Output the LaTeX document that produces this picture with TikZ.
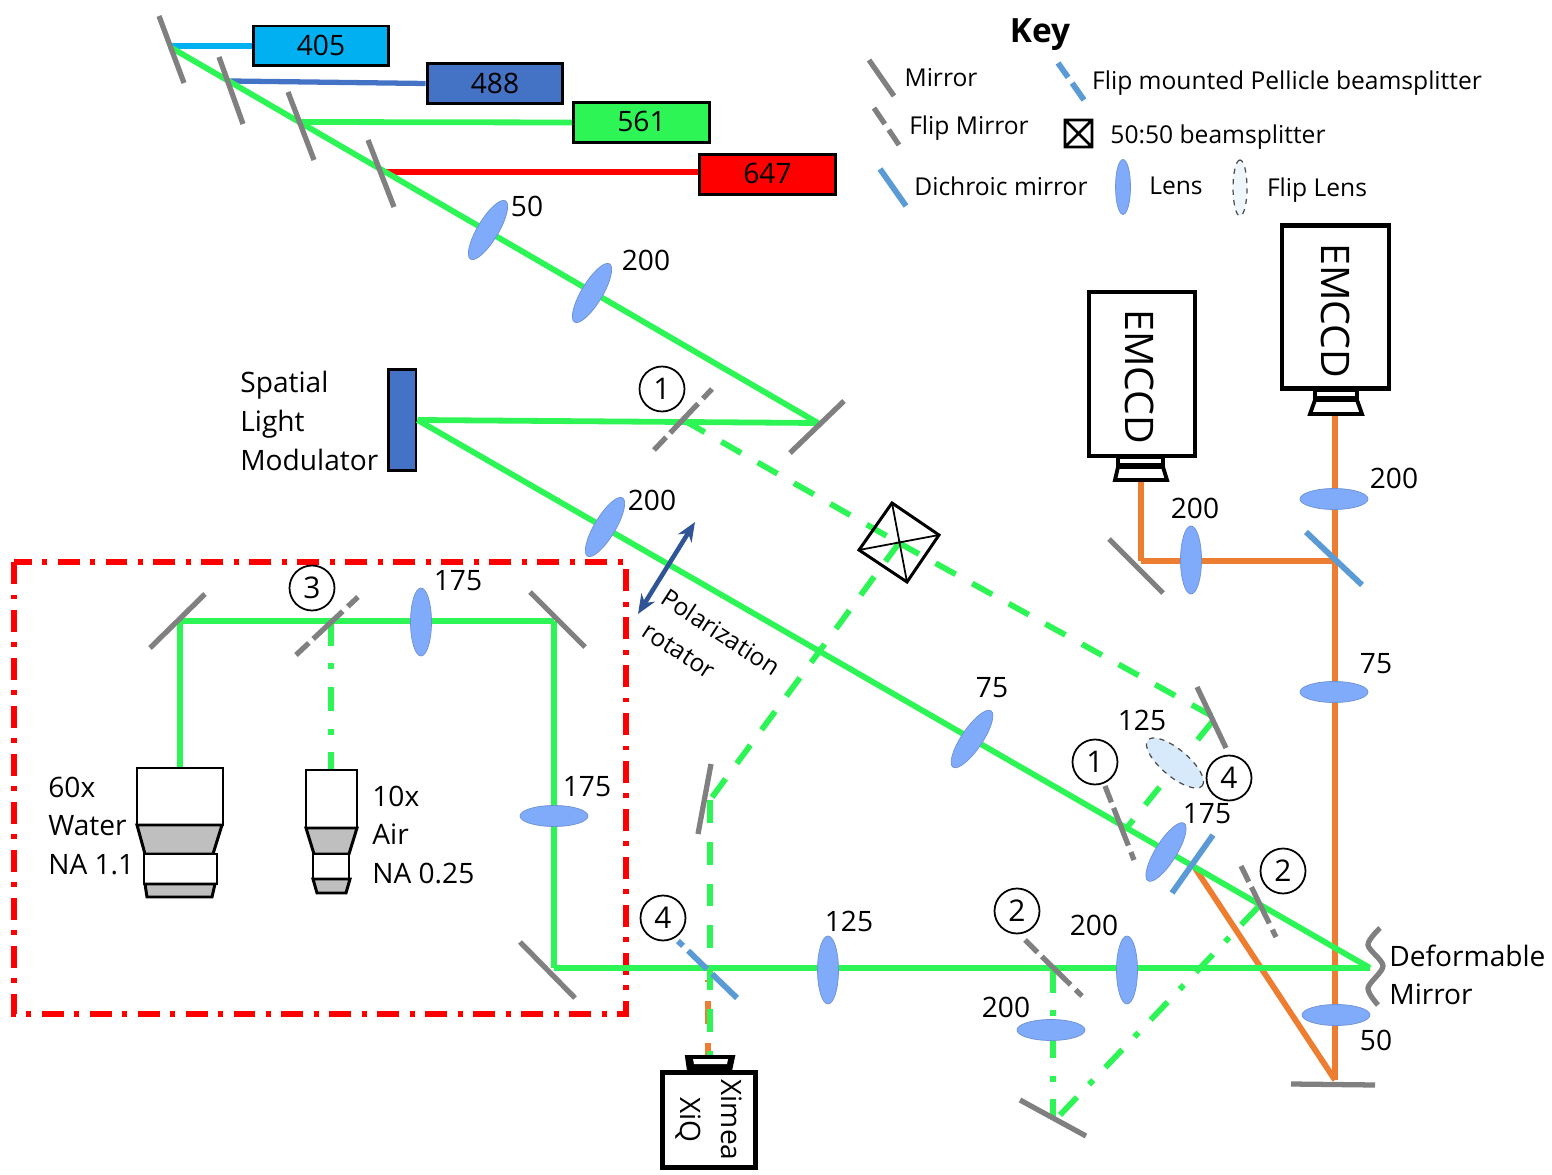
\documentclass[tikz,border=0pt]{standalone}
\usepackage{fontspec}
\setmainfont{Open Sans}
\usetikzlibrary{shapes.geometric,arrows.meta}
\definecolor{beamgreen}{HTML}{2EF556}
\definecolor{beamorange}{HTML}{ED7D31}
\definecolor{beamblue}{HTML}{4472C4}
\definecolor{sky}{HTML}{00B0F0}
\definecolor{lensblue}{HTML}{80ABFA}
\definecolor{fliplensblue}{HTML}{D6EAFB}
\definecolor{dichroic}{HTML}{5B9BD5}
\definecolor{polar}{HTML}{2F5597}
\tikzset{
  lbl/.style={font=\fontsize{16}{22}\selectfont,inner sep=0pt,align=left},
  keylbl/.style={font=\fontsize{14}{22}\selectfont,inner sep=0pt},
  beamg/.style={draw=beamgreen,line width=3.3pt},
  greendash/.style={beamg,dash pattern=on 13pt off 10.8pt},
  greendot/.style={beamg,dash pattern=on 14pt off 10pt on 3.4pt off 10pt},
  beamo/.style={draw=beamorange,line width=3.3pt},
  mirror/.style={draw=gray,line width=3pt},
  flip/.style={mirror,dash pattern=on 10pt off 3.4pt on 23pt off 4pt on 8pt},
  dich/.style={draw=dichroic,line width=3.3pt},
  lens/.style={ellipse,draw=lensblue!85!black,line width=.4pt,fill=lensblue,minimum width=1.36cm,minimum height=.42cm,inner sep=0pt},
  fliplens/.style={ellipse,draw=black!70,dashed,line width=.7pt,fill=fliplensblue,inner sep=0pt},
  num/.style={circle,draw=black,line width=1pt,fill=white,minimum size=.9cm,inner sep=0pt,font=\fontsize{17}{17}\selectfont},
  laser/.style={rectangle,draw=black,line width=1.7pt,minimum width=2.72cm,minimum height=.8cm,inner sep=0pt,font=\fontsize{16}{16}\selectfont},
  cam/.style={rectangle,draw=black,line width=2.8pt,fill=white,inner sep=0pt,rotate=-90},
  mount/.style={draw=black,line width=2.2pt,fill=white},
  obj/.style={draw=black,line width=1.7pt,fill=white},
  objg/.style={obj,fill=black!25},
}
\begin{document}
\begin{tikzpicture}[x=.02cm,y=-.02cm]
  \useasboundingbox (0,0) rectangle (1552,1175);

  \draw[red,line width=2.9pt,dash pattern=on 12.5pt off 6pt on 2.8pt off 6pt] (14,562) rectangle (626,1014);

  \node[laser,fill=sky] (las405) at (321,46) {\raisebox{1.1pt}{405}};
  \node[laser,fill=beamblue] (las488) at (495,83.5) {488};
  \node[laser,fill=beamgreen] (las561) at (641.5,122.5) {\raisebox{1pt}{561}};
  \node[laser,fill=red] (las647) at (767.5,174.5) {\raisebox{1.1pt}{647}};
  \node[rectangle,draw=black,line width=1.7pt,fill=beamblue,minimum width=.56cm,minimum height=2.04cm,inner sep=0pt] (slm) at (402,420) {};

  \coordinate (m405) at (170,46);
  \coordinate (m488) at (230,81);
  \coordinate (m561) at (300,122);
  \coordinate (m647) at (385,172);
  \coordinate (start) at (170,47);
  \coordinate (fold) at (818,423);
  \coordinate (dm) at (1370,968);
  \coordinate (lowm) at (554,968);
  \coordinate (upm) at (554,621);
  \coordinate (leftm) at (180,621);
  \coordinate (obj60) at (180,768);
  \coordinate (fm3) at (331,621);
  \coordinate (obj10) at (331,770);
  \coordinate (fm1) at (685,421);
  \coordinate (cube) at (899,543);
  \coordinate (retro) at (1212,716);
  \coordinate (retrob) at (1212,722);
  \coordinate (fm1b) at (1125,830);
  \coordinate (sidem) at (710,800);
  \coordinate (ximtop) at (710,1057);
  \coordinate (ximor) at (708,980);
  \coordinate (ximorb) at (708,1057);
  \coordinate (fm2) at (1053,968);
  \coordinate (botm) at (1053,1118);
  \coordinate (botmb) at (1060,1115);
  \coordinate (fm2b) at (1260,905);
  \coordinate (dich1) at (1195,868);
  \coordinate (endm) at (1335,1080);
  \coordinate (dich2) at (1335,561);
  \coordinate (ccd2in) at (1335,415);
  \coordinate (elbow) at (1141,561);
  \coordinate (ccd1in) at (1141,480);

  \draw[draw=sky,line width=3pt] (m405) -- (las405.west);
  \draw[draw=beamblue,line width=3pt] (m488) -- (las488.west);
  \draw[draw=red,line width=3pt] (m647) -- (m647 -| las647.west);

  \foreach \from/\to in {dich1/endm, endm/ccd2in, dich2/elbow, elbow/ccd1in}
    \draw[beamo] (\from) -- (\to);
  \draw[beamo,dash pattern=on 13pt off 10.8pt,dash phase=12pt] (ximor) -- (ximorb);

  \foreach \from/\to in {m561/las561.west, start/fold, fold/slm.east, slm.east/dm, dm/lowm, lowm/upm, upm/leftm, leftm/obj60}
    \draw[beamg] (\from) -- (\to);
  \foreach \from/\to in {fm1/cube, cube/retro, retrob/fm1b, cube/sidem, sidem/ximtop}
    \draw[greendash] (\from) -- (\to);
  \foreach \from/\to in {fm3/obj10, fm2/botm, botmb/fm2b}
    \draw[greendot] (\from) -- (\to);

  \foreach \xa/\ya/\xb/\yb in {159/16/184/83, 219/57/243/124, 288/92/314/160, 368/140/394/207, 790/453/844/401,
      150/648/205/594, 530/592/585/647, 520/942/575/998, 1197/687/1226/748, 711/764/698/834, 1020/1100/1086/1136,
      1291/1084/1375/1085, 1109/539/1163/593}
    \draw[mirror] (\xa,\ya) -- (\xb,\yb);
  \foreach \xa/\ya/\xb/\yb in {654/450/712/389, 296/655/358/597, 1105/786/1134/860, 1025/940/1082/996, 1241/866/1276/937}
    \draw[flip] (\xa,\ya) -- (\xb,\yb);
  \foreach \xa/\ya/\xb/\yb in {1172/893/1213/835, 1306/532/1362/585}
    \draw[dich] (\xa,\ya) -- (\xb,\yb);
  \draw[dich,dash pattern=on 4pt off 4pt on 15pt off 4pt on 20pt] (678,941) -- (737,998);
  \draw[mirror] plot[smooth] coordinates {(1380,928) (1368,945) (1383,966) (1368,988) (1378,1005)};

  \node[lens,rotate=59] (l50) at (488,230) {};
  \node[lens,rotate=59] (l200a) at (592,293) {};
  \node[lens,rotate=59] (l200b) at (605,527) {};
  \node[lens,rotate=56] (l75a) at (972,739) {};
  \node[lens,rotate=58] (l175a) at (1166,852) {};
  \node[lens,rotate=90] (l175b) at (421,622) {};
  \node[lens] (l175c) at (554,816) {};
  \node[lens,rotate=90] (l125) at (828,970) {};
  \node[lens,rotate=90] (l200c) at (1127,970) {};
  \node[lens] (l200d) at (1051,1030) {};
  \node[lens] (l50b) at (1336,1015) {};
  \node[lens] (l75b) at (1334,692) {};
  \node[lens] (l200e) at (1334,499) {};
  \node[lens,rotate=90] (l200f) at (1191,560) {};
  \node[fliplens,rotate=-40,minimum width=1.42cm,minimum height=.54cm] (l125f) at (1175,763) {};

  \draw[black,line width=1.7pt] (892,503) -- (939,535) -- (907,582) -- (859,550) -- cycle;
  \draw[black,line width=1pt] (892,503) -- (907,582) (939,535) -- (859,550);

  \draw[polar,line width=2.6pt,{Stealth[length=11pt,width=9pt]}-{Stealth[length=11pt,width=9pt]}] (638,614) -- (695,522);

  \draw[mount] (1118,457) rectangle (1163,465);
  \draw[mount] (1118,467) -- (1163,467) -- (1167,480) -- (1115,480) -- cycle;
  \draw[mount] (1315,390) rectangle (1357,398);
  \draw[mount] (1315,400) -- (1357,400) -- (1362,414) -- (1310,414) -- cycle;
  \draw[mount,fill=black] (687,1057) -- (733,1057) -- (730,1071) -- (689,1071) -- cycle;
  \draw[fill=white,draw=none] (693,1059) -- (728,1059) -- (727,1064) -- (694,1064) -- cycle;

  \node[cam,minimum width=3.28cm,minimum height=2.12cm] (ccd1) at (1142,374) {};
  \node[cam,minimum width=3.26cm,minimum height=2.14cm] (ccd2) at (1335.5,307) {};
  \node[cam,minimum width=1.9cm,minimum height=1.86cm,align=center,font=\fontsize{16}{23}\selectfont] (xim) at (709,1120) {Ximea\\XiQ};
  \node[rotate=-90,inner sep=0pt,font=\fontsize{22.4}{22.4}\selectfont] (ccd1txt) at (1140,377) {EMCCD};
  \node[rotate=-90,inner sep=0pt,font=\fontsize{22.4}{22.4}\selectfont] (ccd2txt) at (1336,311) {EMCCD};

  \draw[obj] (137,768) rectangle (223,825);
  \draw[objg] (137,825) -- (222,825) -- (213,854) -- (145,854) -- cycle;
  \draw[obj] (144,854) rectangle (217,884);
  \draw[objg] (145,884) -- (215,884) -- (212,897) -- (147,897) -- cycle;
  \draw[obj] (306,770) rectangle (357,828);
  \draw[objg] (306,828) -- (357,828) -- (349,854) -- (314,854) -- cycle;
  \draw[obj] (313,854) rectangle (349,879);
  \draw[objg] (313,879) -- (350,879) -- (346,893) -- (317,893) -- cycle;

  \node[num] (n1a) at (662,389) {1};
  \node[num] (n3) at (312,588) {3};
  \node[num] (n1b) at (1095,762) {1};
  \node[num] (n4a) at (1229,778) {4};
  \node[num] (n2a) at (1283,871) {2};
  \node[num] (n2b) at (1017,911) {2};
  \node[num] (n4b) at (663,918) {4};

  \foreach \x/\y/\txt in {527/206/50, 646/260/200, 652/500/200, 458/581/175, 992/688/75, 1142/720/125, 1207/814/175,
      587/787/175, 849/921/125, 1094/925/200, 1006/1007/200, 1376/1040/50, 1376/664/75, 1394/478/200, 1195/508/200}
    \node[lbl] at (\x,\y) {\txt};

  \node[lbl,anchor=west] (slmtxt) at (240,421) {Spatial\\Light\\Modulator};
  \node[lbl,anchor=west] (txt60) at (48,826) {60x\\Water\\NA 1.1};
  \node[lbl,anchor=west] (txt10) at (372,835) {10x\\Air\\NA 0.25};
  \node[lbl,anchor=west] (dmtxt) at (1389,975) {Deformable\\Mirror};
  \node[keylbl,rotate=-33] (pol) at (721,632) {Polarization};
  \node[keylbl,rotate=-33] (rot) at (679,651) {rotator};

  \node[lbl,font=\fontsize{19}{19}\selectfont\bfseries] (key) at (1040,35) {Key};
  \draw[mirror] (869,60) -- (894,96);
  \node[keylbl] (kmir) at (941,78) {Mirror};
  \draw[dich,dash pattern=on 10pt off 4pt on 12pt] (1058,63) -- (1084,100);
  \node[keylbl] (kpel) at (1287,83) {Flip mounted Pellicle beamsplitter};
  \draw[mirror,dash pattern=on 11pt off 4pt on 12pt] (874,108) -- (899,145);
  \node[keylbl] (kflip) at (969,128) {Flip Mirror};
  \draw[black,line width=1.5pt] (1065,120) rectangle (1092,147) (1065,120) -- (1092,147) (1092,120) -- (1065,147);
  \node[keylbl] (kbs) at (1218,137) {50:50 beamsplitter};
  \draw[dich] (880,169) -- (906,206);
  \node[keylbl] (kdic) at (1001,186) {Dichroic mirror};
  \node[lens,rotate=90,minimum width=1.1cm,minimum height=.3cm] (klens) at (1123,187) {};
  \node[keylbl] (klt) at (1176,186) {Lens};
  \node[fliplens,rotate=90,fill=fliplensblue!40,minimum width=1.12cm,minimum height=.28cm] (kflens) at (1240,188) {};
  \node[keylbl] (kflt) at (1317,190) {Flip Lens};
\end{tikzpicture}
\end{document}
